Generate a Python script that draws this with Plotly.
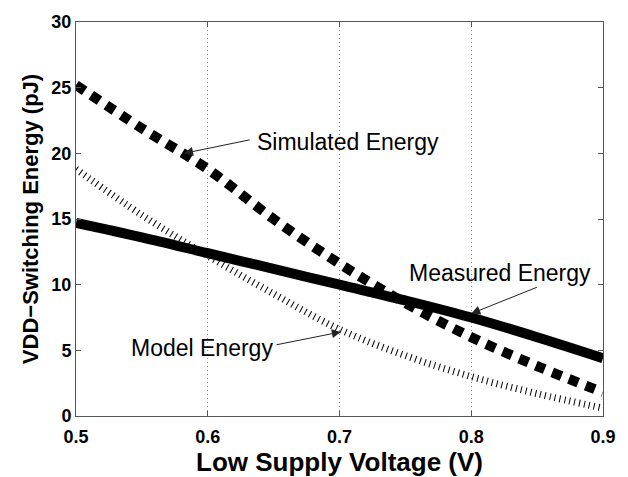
import plotly.graph_objects as go

voltage = [0.5, 0.55, 0.6, 0.65, 0.7, 0.75, 0.8, 0.85, 0.9]
simulated = [25.2, 21.9, 18.8, 15.0, 11.6, 8.6, 6.0, 3.8, 1.8]
measured = [14.7, 13.6, 12.4, 11.2, 10.0, 8.8, 7.5, 6.0, 4.4]
model = [18.8, 15.3, 12.2, 9.3, 6.6, 4.6, 3.0, 1.7, 0.6]

x_ticks = [0.5, 0.6, 0.7, 0.8, 0.9]
y_ticks = [0, 5, 10, 15, 20, 25, 30]

fig = go.Figure()
fig.add_trace(go.Scatter(x=voltage, y=model, mode="lines", line_shape="spline",
                         line=dict(color="black", width=7, dash="1px,4px"), name="Model"))
fig.add_trace(go.Scatter(x=voltage, y=measured, mode="lines", line_shape="spline",
                         line=dict(color="black", width=10), name="Measured"))
fig.add_trace(go.Scatter(x=voltage, y=simulated, mode="lines", line_shape="spline",
                         line=dict(color="black", width=10, dash="10px,8px"), name="Simulated"))

ann_font = dict(family="Liberation Sans, Arial", size=23, color="black")
arrow = dict(showarrow=True, arrowhead=2, arrowsize=1.8, arrowwidth=1, arrowcolor="#222",
             axref="x", ayref="y", text="")
fig.add_annotation(x=0.582, y=20.0, ax=0.633, ay=21.05, **arrow)
fig.add_annotation(x=0.636, y=20.9, text="Simulated Energy", showarrow=False,
                   xanchor="left", yanchor="middle", font=ann_font)
fig.add_annotation(x=0.8, y=7.8, ax=0.851, ay=9.85, **arrow)
fig.add_annotation(x=0.751, y=10.9, text="Measured Energy", showarrow=False,
                   xanchor="left", yanchor="middle", font=ann_font)
fig.add_annotation(x=0.701, y=6.4, ax=0.651, ay=5.4, **arrow)
fig.add_annotation(x=0.651, y=5.2, text="Model Energy", showarrow=False,
                   xanchor="right", yanchor="middle", font=ann_font)

tick_font = dict(family="Liberation Sans, Arial", size=18, color="black")
fig.update_layout(
    width=628, height=477,
    margin=dict(l=76, r=17, t=18, b=60),
    plot_bgcolor="white", paper_bgcolor="white",
    showlegend=False,
    xaxis=dict(range=[0.5, 0.9], tickvals=x_ticks, ticktext=[f"<b>{v}</b>" for v in x_ticks],
               ticks="inside", ticklen=5, tickcolor="#555", mirror="ticks",
               showline=True, linecolor="#555", linewidth=1,
               showgrid=True, gridcolor="#888", griddash="1px,3px", gridwidth=1,
               zeroline=False, tickfont=tick_font, ticklabelstandoff=4,
               title=dict(text="<b>Low Supply Voltage (V)</b>",
                          font=dict(family="Liberation Sans, Arial", size=26, color="black"),
                          standoff=0)),
    yaxis=dict(range=[0, 30], tickvals=y_ticks, ticktext=[f"<b>{v}</b>" for v in y_ticks],
               ticks="inside", ticklen=5, tickcolor="#555", mirror="ticks",
               showline=True, linecolor="#555", linewidth=1,
               showgrid=False, zeroline=False, tickfont=tick_font,
               title=dict(text="<b>VDD−Switching Energy (pJ)</b>",
                          font=dict(family="Liberation Sans, Arial", size=22, color="black"),
                          standoff=6)),
)
fig.write_html("out.html")
